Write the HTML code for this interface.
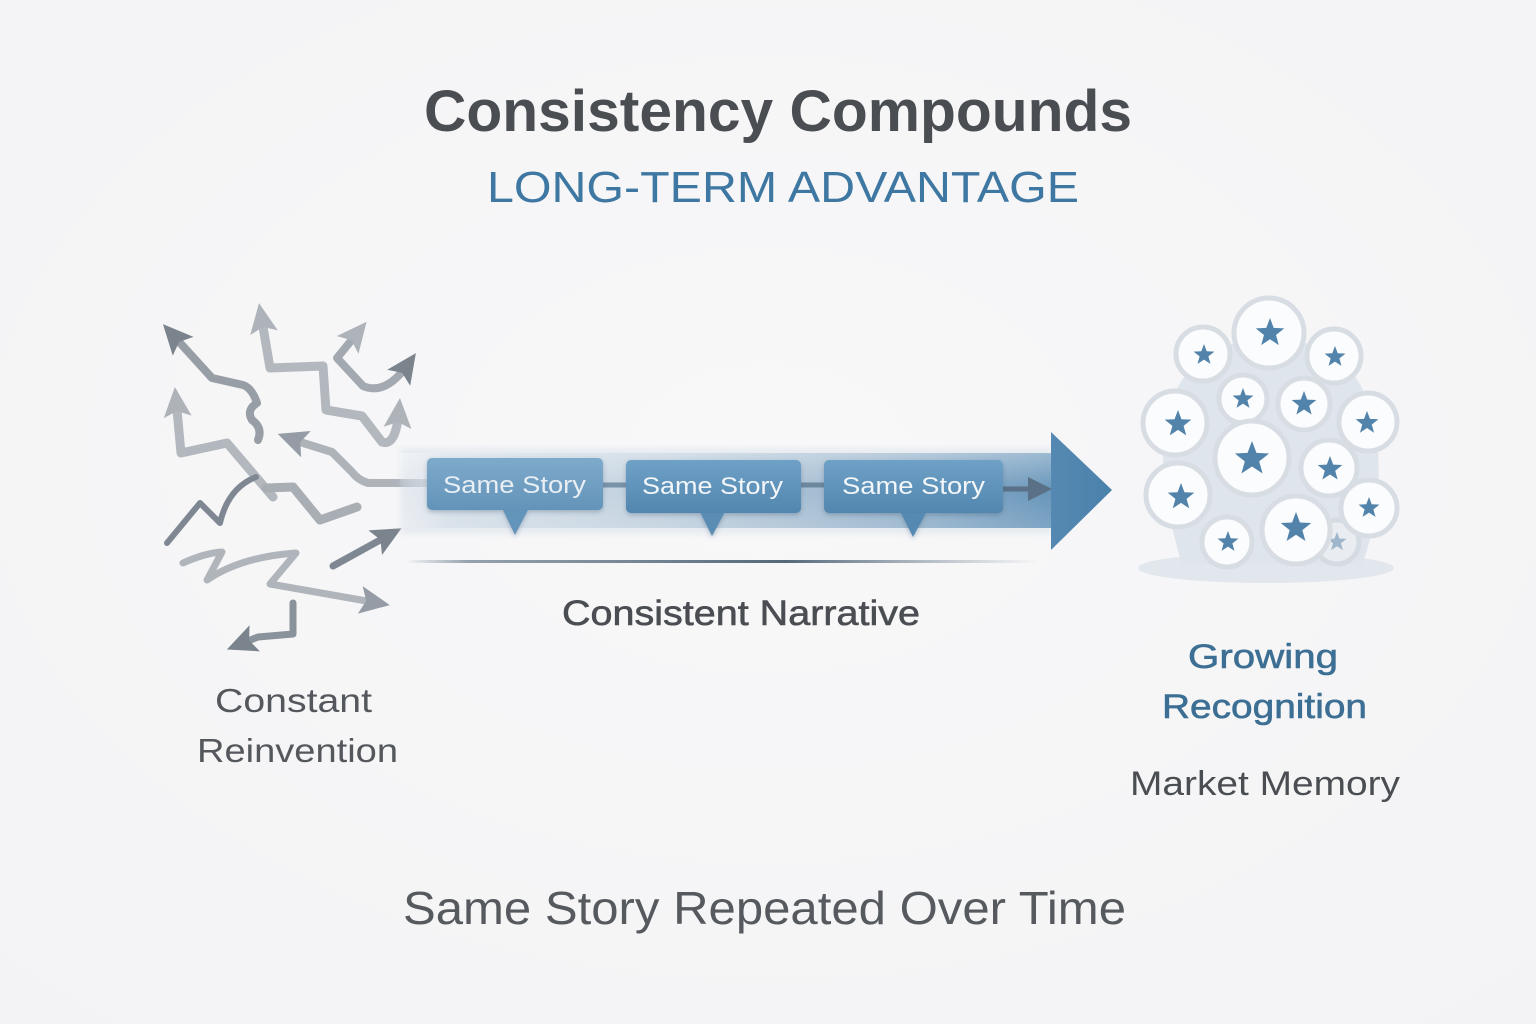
<!DOCTYPE html>
<html>
<head>
<meta charset="utf-8">
<style>
  html,body{margin:0;padding:0;background:#f6f6f8;}
  svg{display:block;}
  text{font-family:"Liberation Sans",Arial,sans-serif;}
</style>
</head>
<body>
<svg width="1536" height="1024" viewBox="0 0 1536 1024" xmlns="http://www.w3.org/2000/svg">
  <defs>
    <radialGradient id="bg" cx="50%" cy="45%" r="75%">
      <stop offset="0" stop-color="#f8f8f9"/>
      <stop offset="1" stop-color="#f3f3f5"/>
    </radialGradient>
    <linearGradient id="band" x1="400" y1="0" x2="1052" y2="0" gradientUnits="userSpaceOnUse">
      <stop offset="0" stop-color="#dfe6ee" stop-opacity="0"/>
      <stop offset="0.07" stop-color="#d3dde7" stop-opacity="0.9"/>
      <stop offset="0.4" stop-color="#c0d0de"/>
      <stop offset="0.75" stop-color="#98b4cc"/>
      <stop offset="1" stop-color="#6795ba"/>
    </linearGradient>
    <linearGradient id="bandV" x1="0" y1="453" x2="0" y2="528" gradientUnits="userSpaceOnUse">
      <stop offset="0" stop-color="#ffffff" stop-opacity="0.35"/>
      <stop offset="0.5" stop-color="#ffffff" stop-opacity="0"/>
      <stop offset="1" stop-color="#ffffff" stop-opacity="0.15"/>
    </linearGradient>
    <linearGradient id="head" x1="1051" y1="0" x2="1112" y2="0" gradientUnits="userSpaceOnUse">
      <stop offset="0" stop-color="#5589b2"/>
      <stop offset="1" stop-color="#4a81ab"/>
    </linearGradient>
    <linearGradient id="box" x1="0" y1="0" x2="0" y2="1">
      <stop offset="0" stop-color="#6fa1c7"/>
      <stop offset="1" stop-color="#5286ae"/>
    </linearGradient>
    <linearGradient id="box1" x1="0" y1="0" x2="0" y2="1">
      <stop offset="0" stop-color="#7eaacb"/>
      <stop offset="1" stop-color="#6393b9"/>
    </linearGradient>
    <linearGradient id="uline" x1="405" y1="0" x2="1040" y2="0" gradientUnits="userSpaceOnUse">
      <stop offset="0" stop-color="#6b7d8d" stop-opacity="0"/>
      <stop offset="0.1" stop-color="#6b7d8d" stop-opacity="0.7"/>
      <stop offset="0.6" stop-color="#55697b"/>
      <stop offset="1" stop-color="#6b7d8d" stop-opacity="0"/>
    </linearGradient>
    <filter id="sh" x="-20%" y="-30%" width="140%" height="170%">
      <feDropShadow dx="0" dy="2" stdDeviation="2.5" flood-color="#3c5a74" flood-opacity="0.35"/>
    </filter>
    <filter id="soft" x="-20%" y="-20%" width="140%" height="140%">
      <feGaussianBlur stdDeviation="3"/>
    </filter>
    <marker id="mDark" viewBox="0 0 30 28" refX="18" refY="14" markerWidth="30" markerHeight="28" markerUnits="userSpaceOnUse" orient="auto-start-reverse">
      <path d="M0,0 L30,14 L0,28 L6,14 Z" fill="#7b838d"/>
    </marker>
    <marker id="mMid" viewBox="0 0 30 28" refX="18" refY="14" markerWidth="30" markerHeight="28" markerUnits="userSpaceOnUse" orient="auto-start-reverse">
      <path d="M0,0 L30,14 L0,28 L6,14 Z" fill="#959ca5"/>
    </marker>
    <marker id="mLight" viewBox="0 0 30 28" refX="18" refY="14" markerWidth="30" markerHeight="28" markerUnits="userSpaceOnUse" orient="auto-start-reverse">
      <path d="M0,0 L30,14 L0,28 L6,14 Z" fill="#aeb3ba"/>
    </marker>
    <marker id="mBand" viewBox="0 0 24 24" refX="12" refY="12" markerWidth="24" markerHeight="24" markerUnits="userSpaceOnUse" orient="auto">
      <path d="M0,0 L24,12 L0,24 Z" fill="#5a7086"/>
    </marker>
    <path id="star" d="M0,-1 L0.247,-0.340 L0.951,-0.309 L0.399,0.130 L0.588,0.809 L0,0.42 L-0.588,0.809 L-0.399,0.130 L-0.951,-0.309 L-0.247,-0.340 Z"/>
  </defs>

  <rect width="1536" height="1024" fill="url(#bg)"/>

  <!-- Title -->
  <text x="424" y="131" font-size="58" font-weight="bold" fill="#4a4d52" textLength="708" lengthAdjust="spacingAndGlyphs">Consistency Compounds</text>
  <text x="487" y="202" font-size="44" fill="#3e78a2" textLength="592" lengthAdjust="spacingAndGlyphs">LONG-TERM ADVANTAGE</text>

  <!-- Chaotic arrows -->
  <g fill="none" stroke-linejoin="round" stroke-linecap="round">
    <path d="M258,440 Q263,428 252,420 Q246,410 257,403 Q252,388 243,385 L212,378 L171,333" stroke="#979ea6" stroke-width="8" marker-end="url(#mDark)"/>
    <path d="M261,315 L270,368 L323,366 L326,410 L362,416 L382,442 Q396,447 399,410" stroke="#b3b8be" stroke-width="9" marker-start="url(#mLight)" marker-end="url(#mLight)"/>
    <path d="M359,331 L337,358 L363,386 Q386,396 409,363" stroke="#a3a9b0" stroke-width="8" marker-start="url(#mLight)" marker-end="url(#mDark)"/>
    <path d="M176,399 L181,453 L227,443 L273,497" stroke="#b3b8be" stroke-width="9" marker-start="url(#mLight)"/>
    <path d="M266,488 L293,487 L320,520 L357,507" stroke="#a9aeb5" stroke-width="9"/>
    <path d="M433,483 L368,483 Q358,480 352,472 L332,452 L300,442 L289,438" stroke="#aeb3ba" stroke-width="8" marker-end="url(#mMid)"/>
    <path d="M167,543 L200,503 L220,523 Q228,488 256,477" stroke="#7f8892" stroke-width="6"/>
    <path d="M183,563 Q205,553 222,552 L207,580 Q240,557 296,553 L270,584 L378,603" stroke="#b0b5bb" stroke-width="7" marker-end="url(#mMid)"/>
    <path d="M333,566 L391,534" stroke="#7f8892" stroke-width="7" marker-end="url(#mDark)"/>
    <path d="M293,603 L293,634 L258,637 L238,645" stroke="#8a929b" stroke-width="7" marker-end="url(#mDark)"/>
  </g>

  <!-- Band -->
  <rect x="400" y="448" width="652" height="86" fill="#c9d6e2" opacity="0.35" filter="url(#soft)"/>
  <rect x="400" y="453" width="652" height="75" fill="url(#band)"/>
  <rect x="400" y="453" width="652" height="75" fill="url(#bandV)"/>
  <polygon points="1051,432 1112,490 1051,550" fill="url(#head)"/>

  <!-- connectors -->
  <line x1="600" y1="485" x2="630" y2="485" stroke="#7892a8" stroke-width="5"/>
  <line x1="798" y1="485" x2="828" y2="485" stroke="#6d879d" stroke-width="5"/>
  <line x1="1000" y1="489" x2="1040" y2="489" stroke="#5a7086" stroke-width="5" marker-end="url(#mBand)"/>

  <!-- boxes -->
  <g filter="url(#sh)">
    <polygon points="502,508 529,508 515,535" fill="#6494ba"/>
    <rect x="427" y="458" width="176" height="52" rx="5" fill="url(#box1)"/>
    <polygon points="699,510 726,510 712,536" fill="#5a8cb4"/>
    <rect x="626" y="460" width="175" height="53" rx="5" fill="url(#box)"/>
    <polygon points="900,511 927,511 913,537" fill="#5689b1"/>
    <rect x="824" y="460" width="179" height="53" rx="5" fill="url(#box)"/>
  </g>
  <text x="443" y="493" font-size="24" fill="#e7eef4" textLength="143" lengthAdjust="spacingAndGlyphs">Same Story</text>
  <text x="642" y="494" font-size="24" fill="#f2f6f9" textLength="141" lengthAdjust="spacingAndGlyphs">Same Story</text>
  <text x="842" y="494" font-size="24" fill="#f2f6f9" textLength="143" lengthAdjust="spacingAndGlyphs">Same Story</text>

  <!-- underline -->
  <rect x="405" y="560" width="635" height="3" fill="url(#uline)"/>

  <!-- labels -->
  <text x="562" y="625" font-size="35" fill="#4a4d52" stroke="#4a4d52" stroke-width="0.6" textLength="358" lengthAdjust="spacingAndGlyphs">Consistent Narrative</text>
  <text x="215" y="712" font-size="33" fill="#54575c" textLength="157" lengthAdjust="spacingAndGlyphs">Constant</text>
  <text x="197" y="762" font-size="33" fill="#54575c" textLength="201" lengthAdjust="spacingAndGlyphs">Reinvention</text>

  <!-- Recognition cluster -->
  <ellipse cx="1266" cy="568" rx="128" ry="15" fill="#e2e7ed"/>
  <path d="M1182,565 C1160,490 1148,405 1198,362 C1238,330 1302,330 1342,362 C1388,402 1386,500 1362,565 Z" fill="#dfe5ec"/>
  <circle cx="1337" cy="542" r="22" fill="#e9edf1" stroke="#d5dbe2" stroke-width="5"/>
  <use href="#star" transform="translate(1337,542) scale(10)" fill="#7f9fbc" opacity="0.7"/>
  <g stroke="#d8dde3" stroke-width="5" fill="#fbfcfd">
    <circle cx="1269" cy="333" r="35"/>
    <circle cx="1203" cy="354" r="27"/>
    <circle cx="1334" cy="356" r="27"/>
    <circle cx="1243" cy="399" r="24"/>
    <circle cx="1304" cy="404" r="26"/>
    <circle cx="1175" cy="423" r="32"/>
    <circle cx="1368" cy="422" r="29"/>
    <circle cx="1252" cy="458" r="37"/>
    <circle cx="1329" cy="468" r="28"/>
    <circle cx="1178" cy="495" r="32"/>
    <circle cx="1369" cy="508" r="28"/>
    <circle cx="1227" cy="542" r="25"/>
    <circle cx="1296" cy="530" r="34"/>
  </g>
  <g fill="#5283ab">
    <use href="#star" transform="translate(1270,333) scale(15)"/>
    <use href="#star" transform="translate(1204,355) scale(11)"/>
    <use href="#star" transform="translate(1335,357) scale(11)"/>
    <use href="#star" transform="translate(1243,399) scale(11)"/>
    <use href="#star" transform="translate(1304,404) scale(13)"/>
    <use href="#star" transform="translate(1178,424) scale(14)"/>
    <use href="#star" transform="translate(1367,423) scale(12)"/>
    <use href="#star" transform="translate(1252,459) scale(18)"/>
    <use href="#star" transform="translate(1330,469) scale(13)"/>
    <use href="#star" transform="translate(1181,497) scale(14)"/>
    <use href="#star" transform="translate(1369,508) scale(11)"/>
    <use href="#star" transform="translate(1228,542) scale(11)"/>
    <use href="#star" transform="translate(1296,528) scale(16)"/>
  </g>

  <text x="1188" y="668" font-size="34" fill="#3d6f94" stroke="#3d6f94" stroke-width="0.6" textLength="150" lengthAdjust="spacingAndGlyphs">Growing</text>
  <text x="1162" y="718" font-size="34" fill="#3d6f94" stroke="#3d6f94" stroke-width="0.6" textLength="205" lengthAdjust="spacingAndGlyphs">Recognition</text>
  <text x="1130" y="795" font-size="34" fill="#4a4d52" textLength="270" lengthAdjust="spacingAndGlyphs">Market Memory</text>

  <!-- bottom -->
  <text x="403" y="924" font-size="46" fill="#56595e" textLength="723" lengthAdjust="spacingAndGlyphs">Same Story Repeated Over Time</text>
</svg>
</body>
</html>
